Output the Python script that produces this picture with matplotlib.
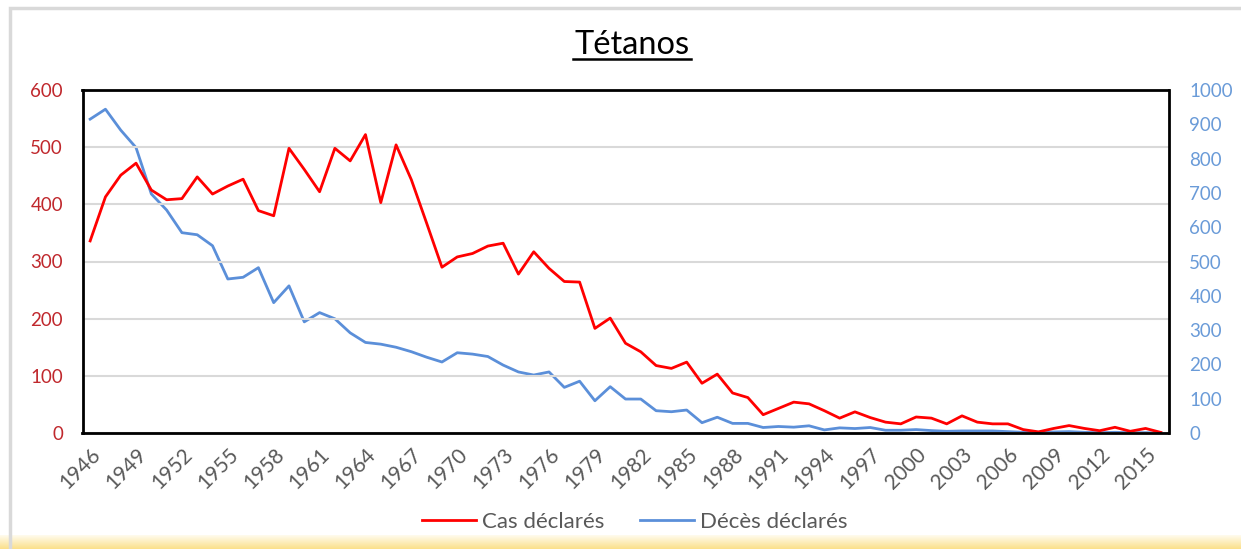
import numpy as np
import matplotlib.pyplot as plt
from matplotlib.patches import Rectangle

plt.rcParams['font.family'] = ['Lato', 'DejaVu Sans']

years = list(range(1946, 2017))
cas = [336, 413, 451, 472, 425, 408, 410, 448, 418, 432,
       444, 389, 380, 498, 461, 422, 498, 476, 522, 403,
       504, 443, 367, 290, 308, 314, 327, 332, 278, 317,
       288, 265, 264, 183, 201, 157, 142, 118, 113, 124,
       87, 103, 70, 62, 32, 43, 54, 51, 39, 26,
       37, 27, 19, 16, 28, 26, 16, 30, 19, 16,
       16, 6, 2, 8, 13, 8, 4, 10, 3, 8, 1]
deces = [915, 944, 883, 832, 697, 650, 584, 578, 546, 449,
         454, 482, 380, 429, 324, 351, 333, 292, 264, 259,
         250, 237, 221, 207, 234, 230, 223, 198, 178, 169,
         178, 133, 151, 94, 135, 99, 99, 65, 62, 67,
         30, 46, 28, 28, 16, 19, 17, 21, 9, 15,
         13, 16, 8, 8, 10, 7, 5, 6, 6, 6,
         4, 2, 2, 3, 4, 2, 1, 2, 1, 1, 0]
tick_years = list(range(1946, 2017, 3))

red = '#FF0000'
blue = '#5B8FD9'

fig = plt.figure(figsize=(12.41, 5.49), dpi=100)

# outer frame and yellow band at the bottom
fig.patches.append(Rectangle((10 / 1241, -0.1), 1.2, 1 - 8 / 549 + 0.1,
                             transform=fig.transFigure, fill=False,
                             edgecolor='#D9D9D9', linewidth=2.5))
grad = np.linspace(0, 1, 50).reshape(-1, 1)
bax = fig.add_axes([0, 0, 1, 14 / 549])
bax.imshow(grad, aspect='auto', cmap=plt.matplotlib.colors.LinearSegmentedColormap.from_list(
    'y', ['#FBE08A', '#FFFDF5']), origin='lower')
bax.axis('off')

ax = fig.add_axes([82.5 / 1241, 1 - 433 / 549, 1086 / 1241, 343 / 549])
ax2 = ax.twinx()

l1, = ax.plot(years, cas, color=red, linewidth=2, label='Cas déclarés')
l2, = ax2.plot(years, deces, color=blue, linewidth=2, label='Décès déclarés')
ax.set_zorder(ax2.get_zorder() + 1)
ax.patch.set_visible(False)

ax.set_xlim(1945.5, 2016.5)
ax.set_ylim(0, 600)
ax2.set_ylim(0, 1000)
ax.set_yticks(range(0, 601, 100))
ax2.set_yticks(range(0, 1001, 100))
ax.set_xticks(tick_years)
ax.set_xticklabels([str(y) for y in tick_years], rotation=45, ha='right',
                   rotation_mode='anchor', fontsize=15, color='#595959')
ax.tick_params(axis='x', length=0, pad=8)
ax.tick_params(axis='y', length=0, labelsize=13.5, labelcolor='#C0282D', pad=14)
ax2.tick_params(axis='y', length=0, labelsize=13.5, labelcolor='#6A9BD8', pad=15)

ax.grid(axis='y', color='#D9D9D9', linewidth=1.5)
ax.set_axisbelow(True)
for sp in ax.spines.values():
    sp.set_color('black')
    sp.set_linewidth(2)
for sp in ax2.spines.values():
    sp.set_visible(False)

fig.text(632 / 1241, 1 - 45 / 549, 'Tétanos', ha='center', va='center',
         fontsize=23.5, color='black')
fig.add_artist(plt.Line2D([573 / 1241, 691 / 1241], [1 - 59 / 549, 1 - 59 / 549],
                          color='black', linewidth=1.8))

fig.legend(handles=[l1, l2], loc='center', bbox_to_anchor=(635 / 1241, 1 - 522 / 549),
           ncol=2, frameon=False, fontsize=16, labelcolor='#595959',
           handlelength=2.4, columnspacing=1.6, handletextpad=0.3)

fig.savefig('out.png', dpi=100)
